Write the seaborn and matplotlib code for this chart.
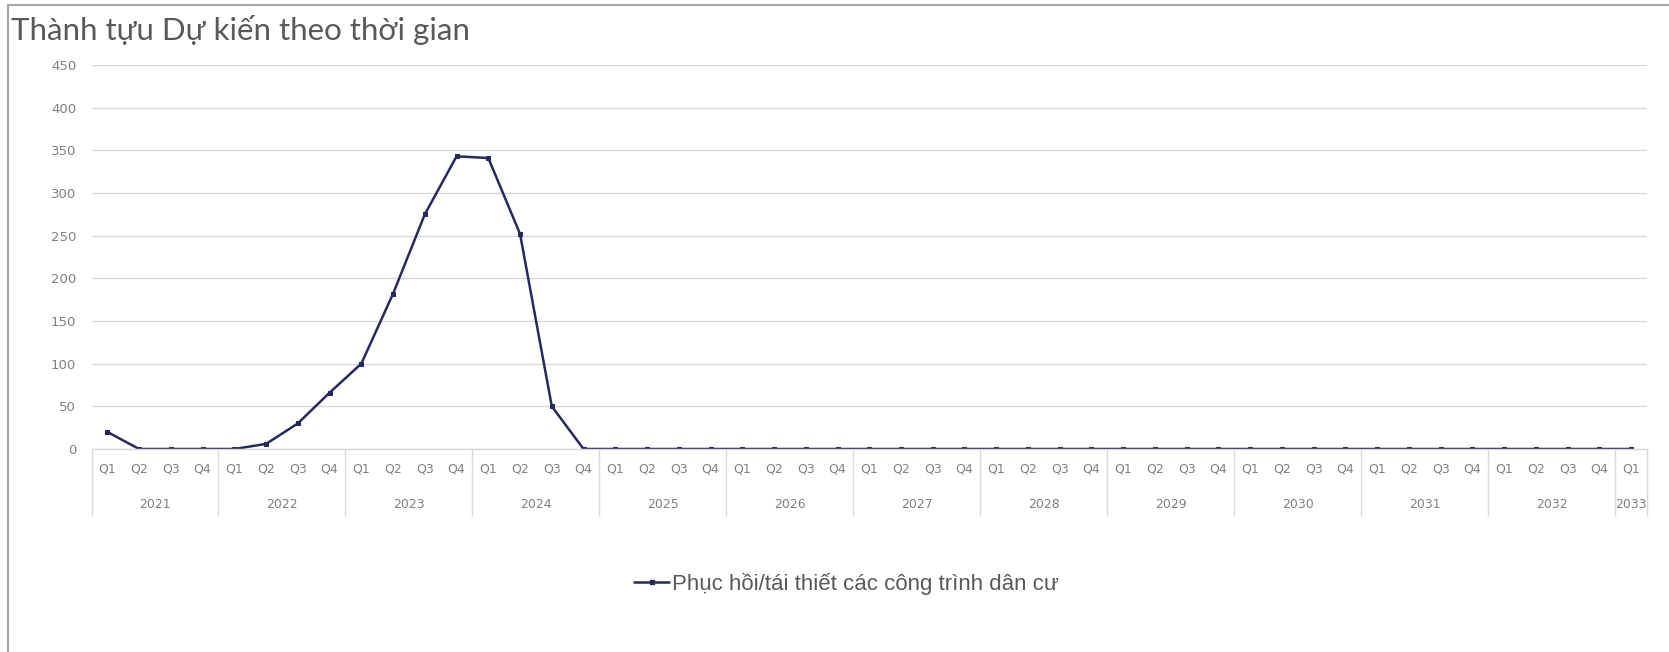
import numpy as np
import pandas as pd
import matplotlib.pyplot as plt
from matplotlib.lines import Line2D
import seaborn as sns

# số liệu theo quý, 2021 Q1 .. 2033 Q1
years = [str(y) for y in range(2021, 2033)] + ["2033"]
quarters_per_year = [4] * 12 + [1]
values = [20, 0, 0, 0,
          0, 6, 30, 66,
          100, 182, 275, 343,
          341, 252, 50, 0] + [0] * 33
series_name = "Phục hồi/tái thiết các công trình dân cư"
title = "Thành tựu Dự kiến theo thời gian"
yticks = list(range(0, 451, 50))

quarter_labels = []
for n in quarters_per_year:
    quarter_labels += ["Q%d" % (i + 1) for i in range(n)]

df = pd.DataFrame({"idx": np.arange(len(values)), "value": values})

sns.set_theme(style="white")
plt.rcParams["font.family"] = ["DejaVu Sans"]

W, H = 1669, 652
fig = plt.figure(figsize=(W / 100, H / 100), dpi=100)
ax = fig.add_axes([91.5 / W, 1 - 449 / H, (1647 - 91.5) / W, (449 - 65) / H])

line_color = "#252a5e"
sns.lineplot(data=df, x="idx", y="value", ax=ax, color=line_color,
             linewidth=1.8, marker="s", markersize=3.5,
             markeredgecolor=line_color, label=series_name)
ax.get_legend().remove()

tick_gray = "#808080"
ax.set_xlim(-0.5, len(values) - 0.5)
ax.set_ylim(0, 450)
ax.set_yticks(yticks)
ax.set_yticklabels([str(v) for v in yticks], fontsize=9.5, color=tick_gray)
ax.yaxis.grid(True, color="#d9d9d9", linewidth=1)
ax.tick_params(axis="y", length=0, pad=11)
ax.set_xlabel("")
ax.set_ylabel("")

ax.set_xticks(df["idx"])
ax.set_xticklabels(quarter_labels, fontsize=9, color=tick_gray)
ax.tick_params(axis="x", length=0, pad=10)

for s in ["top", "right", "left"]:
    ax.spines[s].set_visible(False)
ax.spines["bottom"].set_color("#d9d9d9")
ax.spines["bottom"].set_linewidth(1)

# nhãn năm và vạch phân cách
bounds = np.concatenate([[0], np.cumsum(quarters_per_year)]) - 0.5
ax.vlines(bounds, -0.175, 0, transform=ax.get_xaxis_transform(),
          colors="#d9d9d9", linewidth=1, clip_on=False)
for i, y in enumerate(years):
    mid = (bounds[i] + bounds[i + 1]) / 2
    ax.annotate(y, xy=(mid, 0), xycoords=("data", "axes fraction"),
                xytext=(0, -55 * 0.72), textcoords="offset points",
                ha="center", va="center", fontsize=9, color=tick_gray)

fig.text(11 / W, 1 - 30 / H, title, fontsize=22.5, color="#595959",
         ha="left", va="center", family=["Lato", "Noto Sans", "DejaVu Sans"])

handle = Line2D([], [], color=line_color, linewidth=1.8, marker="s",
                markersize=3.5)
fig.legend([handle], [series_name], loc="center",
           bbox_to_anchor=(846 / W, 1 - 584 / H), frameon=False,
           handlelength=1.6, handletextpad=0.1,
           prop={"family": ["Liberation Sans", "DejaVu Sans"], "size": 16},
           labelcolor="#595959")

# khung viền của ảnh chụp
fig.add_artist(Line2D([8 / W, 8 / W], [0, 1 - 5 / H], transform=fig.transFigure,
                      color="#a6a6a6", linewidth=1.5))
fig.add_artist(Line2D([8 / W, 1], [1 - 5 / H, 1 - 5 / H], transform=fig.transFigure,
                      color="#a6a6a6", linewidth=1.5))

fig.savefig("out.png", dpi=100, facecolor="white")
